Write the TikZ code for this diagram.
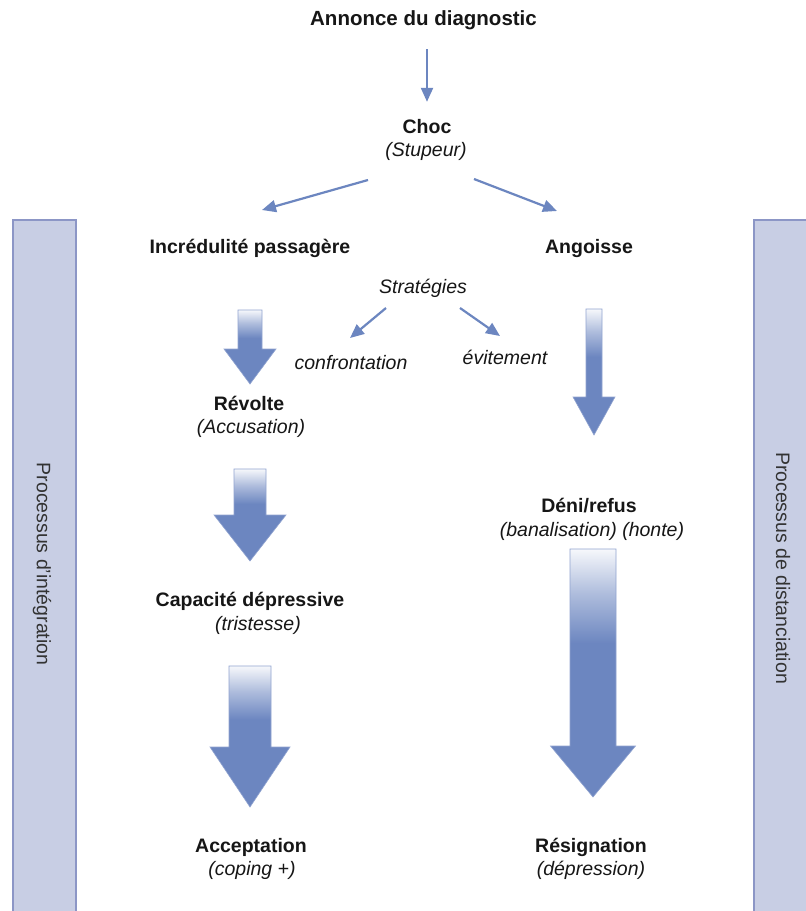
\documentclass[tikz,border=0pt]{standalone}
\usepackage{fontspec}
\setmainfont{Liberation Sans}
\usetikzlibrary{arrows.meta}

\definecolor{arrowblue}{RGB}{108,134,192}
\definecolor{barfill}{RGB}{200,206,228}
\definecolor{barline}{RGB}{140,150,198}
\definecolor{inktext}{RGB}{22,22,22}

% white at the top of a block arrow, fading into blue
\pgfdeclareverticalshading{blockfade}{100bp}{color(0bp)=(arrowblue); color(56bp)=(arrowblue); color(66bp)=(arrowblue!55!white); color(75bp)=(white!94!arrowblue); color(100bp)=(white)}

% block arrow: centre x, top y, shaft half width, head start y, head half width, tip y
\newcommand\blockarr[6]{%
  \path[blockarrow] (#1-#3,#2) -- (#1+#3,#2) -- (#1+#3,#4) -- (#1+#5,#4)
    -- (#1,#6) -- (#1-#5,#4) -- (#1-#3,#4) -- cycle;}

\begin{document}
\begin{tikzpicture}[x=1pt,y=-1pt,
  lab/.style={font=\fontsize{19.5}{23}\selectfont\bfseries, text=inktext,
    inner sep=0pt, text height=14pt, text depth=4pt},
  subtext/.style={font=\fontsize{19.5}{23}\selectfont\itshape, text=inktext,
    inner sep=0pt, text height=14pt, text depth=4pt},
  sidelab/.style={font=\fontsize{19.5}{23}\selectfont, text=black!80,
    inner sep=0pt, rotate=-90},
  flowarrow/.style={draw=arrowblue, line width=2.2pt,
    -{Triangle[length=14pt,width=12pt]}},
  bar/.style={fill=barfill, draw=barline, line width=1.6pt},
  blockarrow/.style={shading=blockfade, draw=arrowblue!75!white, line width=0.6pt}
]
\useasboundingbox (0,0) rectangle (806,911);
\fill[white] (0,0) rectangle (806,911);

% side bands
\path[bar] (13,220) rectangle (76,920);
\path[bar] (754,220) rectangle (820,920);
\node[sidelab] (integration) at (42,564) {Processus d'intégration};
\node[sidelab] (distanciation) at (783,568) {Processus de distanciation};

% labels
\node[lab, font=\fontsize{20.5}{24}\selectfont\bfseries] (annonce) at (423.5,20) {Annonce du diagnostic};
\node[lab] (choc) at (427,128) {Choc};
\node[subtext] (stupeur) at (426,151) {(Stupeur)};
\node[lab] (incredulite) at (250,248) {Incrédulité passagère};
\node[lab] (angoisse) at (589,248) {Angoisse};
\node[subtext] (strategies) at (423,288) {Stratégies};
\node[subtext] (confrontation) at (351,364) {confrontation};
\node[subtext] (evitement) at (505,359) {évitement};
\node[lab] (revolte) at (249,405) {Révolte};
\node[subtext] (accusation) at (251,428) {(Accusation)};
\node[lab] (deni) at (589,507) {Déni/refus};
\node[subtext] (banalisation) at (592,531) {(banalisation) (honte)};
\node[lab] (capacite) at (250,601) {Capacité dépressive};
\node[subtext] (tristesse) at (258,625) {(tristesse)};
\node[lab] (acceptation) at (251,847) {Acceptation};
\node[subtext] (coping) at (252,870) {(coping +)};
\node[lab] (resignation) at (591,847) {Résignation};
\node[subtext] (depression) at (591,870) {(dépression)};

% thin arrows
\coordinate (chocL) at (368,180);
\coordinate (incrT) at (262,210);
\coordinate (chocR) at (474,179);
\coordinate (angT) at (557,211);
\coordinate (stratL) at (386,308);
\coordinate (confT) at (350,338);
\coordinate (stratR) at (460,308);
\coordinate (eviT) at (500,336);

\draw[flowarrow, shorten <=20pt, shorten >=17pt] (annonce.south -| choc.north) -- (choc.north);
\draw[flowarrow] (chocL) -- (incrT);
\draw[flowarrow] (chocR) -- (angT);
\draw[flowarrow] (stratL) -- (confT);
\draw[flowarrow] (stratR) -- (eviT);

% block arrows
\blockarr{250}{310}{12}{349}{26}{384}
\blockarr{250}{469}{16}{515}{36}{561}
\blockarr{250}{666}{21}{747}{40}{807}
\blockarr{594}{309}{8}{397}{21}{435}
\blockarr{593}{549}{23}{746}{42.5}{797}
\end{tikzpicture}
\end{document}
